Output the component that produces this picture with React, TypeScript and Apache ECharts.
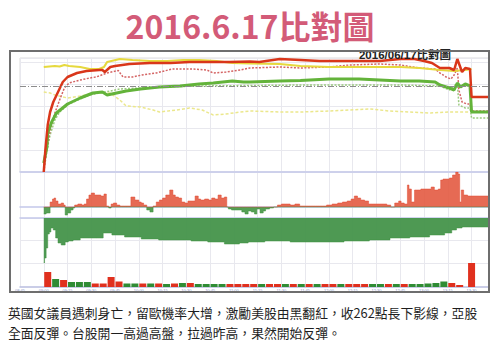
import React, { useEffect, useRef } from "react";
import * as echarts from "echarts";

// ---------- texts ----------
const titleText = "2016.6.17比對圖";
const chartLabel = "2016/06/17比對圖";
const captionLines = [
  "英國女議員遇刺身亡，留歐機率大增，激勵美股由黑翻紅，收262點長下影線，亞股",
  "全面反彈。台股開一高過高盤，拉過昨高，果然開始反彈。",
];

// ---------- axis (minutes after 09:00) ----------
const axisMin = -15;
const axisMax = 281;
const axisStep = 15;
const referenceLevel = 86;

// ---------- top panel: comparison lines ----------
const redSolidT = [0, 1, 2.5, 4, 6, 9, 12, 15, 21, 27, 35, 37, 38.5, 42, 45, 54, 67, 80, 92, 105, 117, 130, 136, 149, 162, 174, 187, 199, 212, 225, 234, 240, 245, 250, 256, 259, 261, 264, 266, 269, 270, 281];
const redSolidV = [0, 22, 47, 60, 70, 80, 90, 95, 99, 101, 102, 102, 100, 105, 106, 108, 109, 109, 110, 110, 110, 110.5, 110, 113, 112, 111, 111, 111, 111, 113, 113, 111, 109, 104, 104, 102, 113, 100, 104, 103, 75, 75];

const redDotT = [0, 2, 4, 7, 10, 13, 16, 23, 29, 33, 40, 47, 50, 56, 62, 71, 81, 94, 103, 107, 115, 124, 130, 149, 162, 180, 193, 212, 225, 237, 247, 250, 254, 257, 259, 261, 262, 264, 267, 269, 270, 281];
const redDotV = [0, 22, 42, 59, 72, 84, 89, 92, 94, 95, 99, 101.5, 95, 95, 97, 99, 103, 103, 102, 99, 100, 102, 104, 105, 104, 105, 107, 108, 107, 104, 103, 99, 95, 93, 97, 104, 82, 70, 68, 68, 61, 61];

const greenSolidT = [0, 2, 2.5, 5, 8, 15, 23, 31, 37, 40, 46, 52, 61, 73, 86, 98, 107, 119, 126, 130, 149, 162, 180, 199, 212, 225, 237, 247, 250, 256, 259, 261, 263, 266, 269, 270, 281];
const greenSolidV = [9, 25, 39, 50, 59, 68, 74, 79, 80, 77, 79, 81, 83, 85, 86, 88, 89, 91, 90, 90, 91, 91.5, 93, 93, 92, 91, 91, 90, 87, 84, 82, 89, 85, 88, 86, 60, 60];

const greenDotT = [0, 2, 4, 7, 10, 16, 23, 29, 35, 42, 48, 61, 73, 98, 130, 162, 193, 225, 250, 256, 261, 262, 266, 269, 270, 281];
const greenDotV = [7, 22, 37, 52, 60, 68, 73, 77, 79, 81, 83, 84, 85, 86, 86.5, 87, 87, 87, 86, 82, 89, 67, 64, 64, 54, 54];

const yellowSolidT = [0, 7, 10, 13, 16, 23, 29, 35, 38, 40, 48, 56, 67, 78, 88, 98, 109, 119, 130, 149, 162, 180, 199, 225, 237, 250, 259, 266, 270];
const yellowSolidV = [105, 106, 105.5, 107, 106, 105, 103, 103, 105, 110, 113, 112, 111, 111, 112, 112, 111, 109, 108.5, 108, 106, 105, 105, 105, 104, 102, 101, 102, 103];

const yellowPaleT = [0, 4, 7, 15, 23, 33, 42, 48, 52, 61, 69, 73, 84, 92, 100, 107, 115, 124, 130, 149, 162, 180, 193, 206, 218, 231, 244, 256, 269];
const yellowPaleV = [80, 79, 77, 74, 76, 79, 79, 72, 66, 65, 62, 60, 62, 64, 62, 57, 58, 60, 61, 60, 60, 61, 62, 63, 61, 60, 59, 60, 60];

// ---------- second panel: buy/sell difference ----------
const diffT = [0, 3, 5, 6, 7, 8, 10, 12, 13, 14, 16, 18, 19, 20, 23, 25, 26, 28, 29, 31, 33, 35, 37, 39, 40, 42, 43, 45, 47, 49, 51, 54, 56, 59, 61, 62, 64, 66, 68, 70, 72, 74, 76, 78, 81, 82, 84, 86, 88, 90, 92, 94, 97, 98, 100, 103, 105, 107, 109, 111, 113, 115, 116, 117, 120, 124, 126, 128, 130, 132, 134, 135, 138, 139, 141, 144, 146, 149, 151, 154, 157, 160, 163, 167, 170, 173, 175, 177, 180, 184, 187, 190, 193, 195, 197, 199, 201, 204, 206, 209, 212, 215, 218, 220, 223, 225, 226, 229, 230, 231, 233, 235, 237, 239, 242, 244, 245, 248, 250, 251, 253, 255, 257, 259, 261, 262, 263, 264, 266, 269, 281];
const diffV = [-7, -6, 5, 8, 9, 6, 3, 4, 2, -8, -6, -3, -1, 2, 3, 2, 3, 8, 12, 14, 12, 12, 11, 13, 1, -1, 3, 4, 2, 1, 1, 1, 10, 7, 5, 4, 2, -3, -5, 1, 5, 7, 9, 12, 17, 12, 10, 9, 5, 4, 6, 6, 11, 8, 7, 8, 7, 9, 8, 12, 9, 10, 0, -2, -3, -3, -5, -7, -4, -5, -7, -2, -6, -4, -2, -1, 0, 2, 3, 3, 2, 3, 1, 1, 1, 1, 1, 1, 2, 3, 4, 5, 6, 8, 11, 9, 7, 6, 3, 3, 3, 3, 2, 0, 4, 6, 4, 3, 22, 18, 5, 17, 17, 18, 18, 18, 20, 17, 18, 27, 28, 28, 29, 32, 35, 33, 5, 17, 12, 11, 11];

// ---------- third panel: cumulative (green) ----------
const cumT = [0, 1, 2, 3, 4, 5, 7, 8, 10, 12, 15, 16, 21, 25, 31, 35, 40, 46, 56, 67, 78, 88, 98, 109, 119, 128, 130, 149, 162, 180, 199, 212, 225, 237, 250, 256, 259, 262, 266, 269, 281];
const cumV = [45, 40, 30, 16, 14, 10, 12, 20, 25, 27, 24, 23, 22, 20, 20, 20, 15, 17, 19, 21, 22, 22, 23, 24, 26, 25, 24, 23, 24, 24, 23, 22, 20, 19, 17, 15, 12, 10, 9, 9, 9];

// ---------- bottom panel: 5-minute volume ----------
const volume5m = [15, 8, 7, 5, 5, 5, 3.5, 3.5, 10, 5.5, 3.5, 3.5, 3.5, 3.5, 3.5, 3, 3.5, 4, 4, 3, 3, 3, 3, 3, 3, 3, 3, 3, 3, 3, 3, 3, 3, 3, 3, 3, 3, 3, 3, 3, 3, 3, 3, 3, 3, 3, 3, 3, 3.5, 4, 5.5, 4, 2];
const volumeUp = [1, 0, 1, 0, 0, 0, 1, 1, 1, 1, 0, 0, 1, 0, 1, 0, 1, 0, 1, 0, 0, 0, 0, 1, 1, 1, 1, 0, 1, 1, 0, 1, 0, 1, 0, 1, 1, 0, 1, 1, 1, 0, 0, 1, 0, 1, 0, 0, 0, 0, 0, 1, 1];
const closingTime = 270;
const closingVolume = 24;

const RED = "#e0301e";
const GREEN = "#2f8c34";

const zip = (t: number[], v: number[]) => t.map((x, i) => [x, v[i]]);

const fmtTime = (m: number) => {
  const total = 9 * 60 + m;
  const h = Math.floor(total / 60);
  const mm = total % 60;
  return (h < 10 ? "0" : "") + h + ":" + (mm < 10 ? "0" : "") + mm;
};

export default function App() {
  const ref = useRef<HTMLDivElement>(null);

  useEffect(() => {
    if (!ref.current) return;
    const chart = echarts.init(ref.current, undefined, { renderer: "svg" });

    const gridBase = { left: 20, width: 469, containLabel: false, outerBoundsMode: "none" } as any;
    const grids = [
      { ...gridBase, top: 58, height: 114, show: true, borderColor: "#dcdcdc", borderWidth: 1 },
      { ...gridBase, top: 172, height: 46 },
      { ...gridBase, top: 218, height: 45 },
      { ...gridBase, top: 263, height: 24 },
    ];

    const xAxes = [0, 1, 2, 3].map((i) => ({
      type: "value",
      gridIndex: i,
      min: axisMin,
      max: axisMax,
      interval: axisStep,
      axisLine: { show: true, lineStyle: { color: i === 3 ? "#b9bde0" : "#c4c7ea", width: 1.5 } },
      axisTick: { show: false },
      axisLabel: {
        show: i === 3,
        fontSize: 4,
        color: "#8a93c8",
        margin: 1,
        formatter: (v: number) => (v % 15 === 0 ? fmtTime(v) : ""),
      },
      splitLine: { show: true, lineStyle: { color: "#e8e8ee", width: 1 } },
    }));

    const hiddenY = {
      axisLine: { show: false },
      axisTick: { show: false },
      axisLabel: { show: false },
    };
    const yAxes = [
      { type: "value", gridIndex: 0, min: 0, max: 114, interval: 22, ...hiddenY, splitLine: { show: true, lineStyle: { color: "#e8e8ee" } } },
      { type: "value", gridIndex: 1, min: -11, max: 35, ...hiddenY, splitLine: { show: false } },
      { type: "value", gridIndex: 2, min: 0, max: 45, interval: 22.5, inverse: true, ...hiddenY, splitLine: { show: true, lineStyle: { color: "#e8e8ee" } } },
      { type: "value", gridIndex: 3, min: 0, max: 24, ...hiddenY, splitLine: { show: false } },
    ];

    const lineSeries = (name: string, data: number[][], color: string, width: number, type: any, extra: any = {}) => ({
      name,
      type: "line",
      xAxisIndex: 0,
      yAxisIndex: 0,
      data,
      showSymbol: false,
      symbol: "none",
      silent: true,
      lineStyle: { color, width, type },
      ...extra,
    });

    const volumeData = volume5m.map((v, i) => ({
      value: [i * 5 + 2.5, v],
      itemStyle: { color: volumeUp[i] ? RED : GREEN },
    }));
    volumeData.push({ value: [closingTime, closingVolume], itemStyle: { color: RED } });

    const option: any = {
      animation: false,
      backgroundColor: "#ffffff",
      grid: grids,
      xAxis: xAxes,
      yAxis: yAxes,
      series: [
        lineSeries("yellowPale", zip(yellowPaleT, yellowPaleV), "#ebe78c", 1.5, [3, 2], {
          markLine: {
            silent: true,
            symbol: "none",
            label: { show: false },
            lineStyle: { color: "#8c8c8c", width: 1, type: [6, 2, 1, 2] },
            data: [{ yAxis: referenceLevel }],
          },
        }),
        lineSeries("greenDot", zip(greenDotT, greenDotV), "#9cca80", 1.5, [2, 1.5]),
        lineSeries("redDot", zip(redDotT, redDotV), "#d46464", 1.5, [2, 1.5]),
        lineSeries("yellowSolid", zip(yellowSolidT, yellowSolidV), "#e6d93e", 2.2, "solid"),
        lineSeries("greenSolid", zip(greenSolidT, greenSolidV), "#63b33a", 3, "solid"),
        lineSeries("redSolid", zip(redSolidT, redSolidV), "#d9361a", 2.5, "solid"),
        {
          name: "diffUp",
          type: "line",
          xAxisIndex: 1,
          yAxisIndex: 1,
          step: "middle",
          symbol: "none",
          silent: true,
          data: zip(diffT, diffV.map((v) => (v > 0 ? v : 0))),
          lineStyle: { color: "#e04a32", width: 0.5 },
          areaStyle: { color: "#e2553c", opacity: 0.88 },
        },
        {
          name: "diffDown",
          type: "line",
          xAxisIndex: 1,
          yAxisIndex: 1,
          step: "middle",
          symbol: "none",
          silent: true,
          data: zip(diffT, diffV.map((v) => (v < 0 ? v : 0))),
          lineStyle: { color: "#3f923f", width: 0.5 },
          areaStyle: { color: "#3f923f", opacity: 0.88 },
        },
        {
          name: "cumulative",
          type: "line",
          xAxisIndex: 2,
          yAxisIndex: 2,
          step: "middle",
          symbol: "none",
          silent: true,
          data: zip(cumT, cumV),
          lineStyle: { color: "#3f903f", width: 0.5 },
          areaStyle: { color: "#44944a", opacity: 0.95 },
        },
        {
          name: "volume",
          type: "bar",
          xAxisIndex: 3,
          yAxisIndex: 3,
          barWidth: 7,
          silent: true,
          data: volumeData,
        },
      ],
      graphic: [
        {
          type: "rect",
          z: 100,
          silent: true,
          shape: { x: 10, y: 51, width: 479, height: 241 },
          style: { fill: "none", stroke: "#6e6e6e", lineWidth: 2 },
        },
        {
          type: "text",
          x: 250,
          y: 25,
          silent: true,
          style: {
            text: titleText,
            fontSize: 32,
            fontWeight: "bold",
            fontFamily: "'Noto Sans CJK TC', 'Noto Sans', sans-serif",
            fill: "#d35b78",
            textAlign: "center",
            textVerticalAlign: "middle",
          },
        },
        {
          type: "text",
          x: 405,
          y: 55,
          z: 50,
          silent: true,
          style: {
            text: chartLabel,
            fontSize: 11.5,
            fontWeight: "bold",
            fontFamily: "'Liberation Sans', 'Noto Sans CJK TC', sans-serif",
            fill: "#222222",
            textAlign: "center",
            textVerticalAlign: "middle",
          },
        },
        ...captionLines.map((line, i) => ({
          type: "text",
          x: 8,
          y: 312 + i * 20,
          silent: true,
          style: {
            text: line,
            fontSize: 12.8,
            fontFamily: "'Noto Sans CJK TC', sans-serif",
            fill: "#1e1e1e",
            textAlign: "left",
            textVerticalAlign: "middle",
          },
        })),
      ],
    };

    chart.setOption(option);
    return () => chart.dispose();
  }, []);

  return (
    <div
      ref={ref}
      style={{ position: "fixed", left: 0, top: 0, width: 500, height: 346, background: "#ffffff" }}
    />
  );
}
